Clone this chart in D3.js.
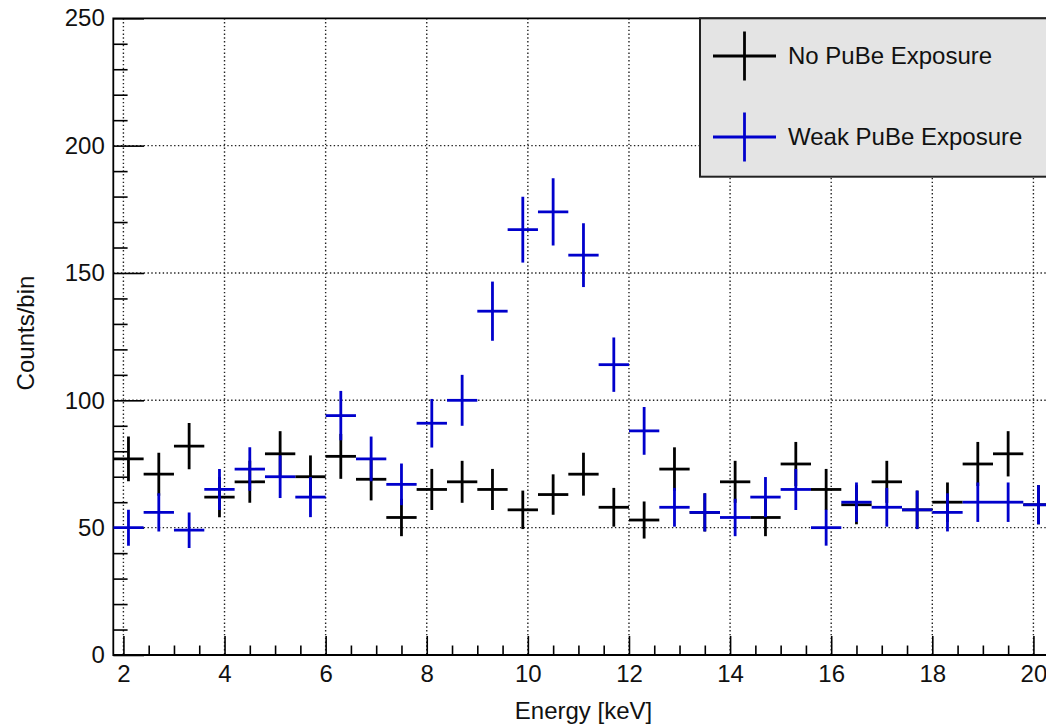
<!DOCTYPE html>
<html>
<head>
<meta charset="utf-8">
<script src="https://cdn.jsdelivr.net/npm/d3@7"></script>
<style>
  html, body { margin: 0; padding: 0; background: #fff; }
  svg { display: block; }
  text { font-family: "Liberation Sans", Arial, Helvetica, sans-serif; fill: #111; }
</style>
</head>
<body>
<svg id="chart" width="1046" height="727"></svg>
<script>
// Energy spectrum: bin centres [keV] and counts per bin for the two runs
const binWidth = 0.6;
const energy = [2.1, 2.7, 3.3, 3.9, 4.5, 5.1, 5.7, 6.3, 6.9, 7.5, 8.1, 8.7, 9.3, 9.9, 10.5,
                11.1, 11.7, 12.3, 12.9, 13.5, 14.1, 14.7, 15.3, 15.9, 16.5, 17.1, 17.7, 18.3,
                18.9, 19.5, 20.1];
const noExposure = [77, 71, 82, 62, 68, 79, 70, 78, 69, 54, 65, 68, 65, 57, 63,
                    71, 58, 53, 73, 56, 68, 54, 75, 65, 59, 68, 57, 60, 75, 79, 59];
const weakExposure = [50, 56, 49, 65, 73, 70, 62, 94, 77, 67, 91, 100, 135, 167, 174,
                      157, 114, 88, 58, 56, 54, 62, 65, 50, 60, 58, 57, 56, 60, 60, 59];

const seriesNames = ["No PuBe Exposure", "Weak PuBe Exposure"];
const seriesColors = ["#000000", "#0000cc"];

const xTicks = [2, 4, 6, 8, 10, 12, 14, 16, 18, 20];
const yTicks = [0, 50, 100, 150, 200, 250];
const xTitle = "Energy [keV]";
const yTitle = "Counts/bin";

const svg = d3.select("#chart");
const frame = { left: 113.3, top: 18.3, bottom: 655 };

const x = d3.scaleLinear().domain([1.8, 20.4]).range([frame.left, frame.left + 18.6 * 50.556]);
const y = d3.scaleLinear().domain([0, 250]).range([frame.bottom, frame.top]);
const frameRight = x.range()[1];

svg.append("defs").append("clipPath").attr("id", "plot-clip")
  .append("rect")
  .attr("x", frame.left).attr("y", frame.top)
  .attr("width", frameRight - frame.left).attr("height", frame.bottom - frame.top);

// dotted grid
const grid = svg.append("g").attr("stroke", "#222").attr("stroke-width", 1.4)
  .attr("stroke-dasharray", "1.4,2.4");
grid.selectAll("line.gx").data(xTicks).join("line").attr("class", "gx")
  .attr("x1", d => x(d)).attr("x2", d => x(d))
  .attr("y1", frame.top).attr("y2", frame.bottom);
grid.selectAll("line.gy").data(yTicks.filter(d => d > 0 && d < 250)).join("line").attr("class", "gy")
  .attr("x1", frame.left).attr("x2", frameRight)
  .attr("y1", d => y(d)).attr("y2", d => y(d));

// axes with inward ticks
const xMinor = d3.range(2, 20.41, 0.5).filter(v => !xTicks.includes(+v.toFixed(1)));
const yMinor = d3.range(0, 251, 10).filter(v => v % 50 !== 0);

const xAxis = svg.append("g").attr("transform", `translate(0,${frame.bottom})`)
  .call(d3.axisBottom(x).tickValues(xTicks).tickSizeInner(-19).tickSizeOuter(0)
        .tickPadding(10).tickFormat(d3.format("d")));
svg.append("g").attr("transform", `translate(0,${frame.bottom})`)
  .call(d3.axisBottom(x).tickValues(xMinor).tickSizeInner(-9.5).tickSizeOuter(0).tickFormat(""));

const yAxis = svg.append("g").attr("transform", `translate(${frame.left},0)`)
  .call(d3.axisLeft(y).tickValues(yTicks).tickSizeInner(-30.7).tickSizeOuter(0)
        .tickPadding(8.5).tickFormat(d3.format("d")));
svg.append("g").attr("transform", `translate(${frame.left},0)`)
  .call(d3.axisLeft(y).tickValues(yMinor).tickSizeInner(-14.3).tickSizeOuter(0).tickFormat(""));

svg.selectAll(".domain").remove();
svg.selectAll(".tick line").attr("stroke", "#000").attr("stroke-width", 1.6);
svg.selectAll(".tick text").attr("font-size", 24).attr("fill", "#111")
  .style("font-family", "'Liberation Sans', Arial, Helvetica, sans-serif");

// frame border (left, bottom, top)
svg.append("path")
  .attr("d", `M${frameRight + 5},${frame.top}H${frame.left}V${frame.bottom}H${frameRight + 5}`)
  .attr("fill", "none").attr("stroke", "#000").attr("stroke-width", 1.8);

// error crosses: horizontal = bin width, vertical = ±sqrt(N)
const plot = svg.append("g").attr("clip-path", "url(#plot-clip)");
[noExposure, weakExposure].forEach((counts, si) => {
  const g = plot.append("g").attr("stroke", seriesColors[si]).attr("stroke-width", 2.8);
  const pts = energy.map((e, i) => ({ e, v: counts[i] }));
  g.selectAll("line.h").data(pts).join("line").attr("class", "h")
    .attr("x1", d => x(d.e - binWidth / 2)).attr("x2", d => x(d.e + binWidth / 2))
    .attr("y1", d => y(d.v)).attr("y2", d => y(d.v));
  g.selectAll("line.v").data(pts).join("line").attr("class", "v")
    .attr("x1", d => x(d.e)).attr("x2", d => x(d.e))
    .attr("y1", d => y(d.v - Math.sqrt(d.v))).attr("y2", d => y(d.v + Math.sqrt(d.v)));
});

// axis titles
svg.append("text").attr("x", 583.5).attr("y", 719).attr("text-anchor", "middle")
  .attr("font-size", 24).text(xTitle);
svg.append("text").attr("transform", "translate(34,333) rotate(-90)")
  .attr("text-anchor", "middle").attr("font-size", 24).text(yTitle);

// legend
const legend = svg.append("g");
legend.append("rect").attr("x", 700).attr("y", frame.top)
  .attr("width", 420).attr("height", 158.4)
  .attr("fill", "#e4e4e4").attr("stroke", "#222").attr("stroke-width", 2);
const rowY = [56, 137];
seriesNames.forEach((name, i) => {
  const gy = rowY[i];
  const lg = legend.append("g").attr("stroke", seriesColors[i]).attr("stroke-width", 2.8);
  lg.append("line").attr("x1", 713).attr("x2", 776).attr("y1", gy).attr("y2", gy);
  lg.append("line").attr("x1", 744.5).attr("x2", 744.5).attr("y1", gy - 24.5).attr("y2", gy + 24.5);
  legend.append("text").attr("x", 788).attr("y", gy + 7.8).attr("font-size", 24).text(name);
});
</script>
</body>
</html>
